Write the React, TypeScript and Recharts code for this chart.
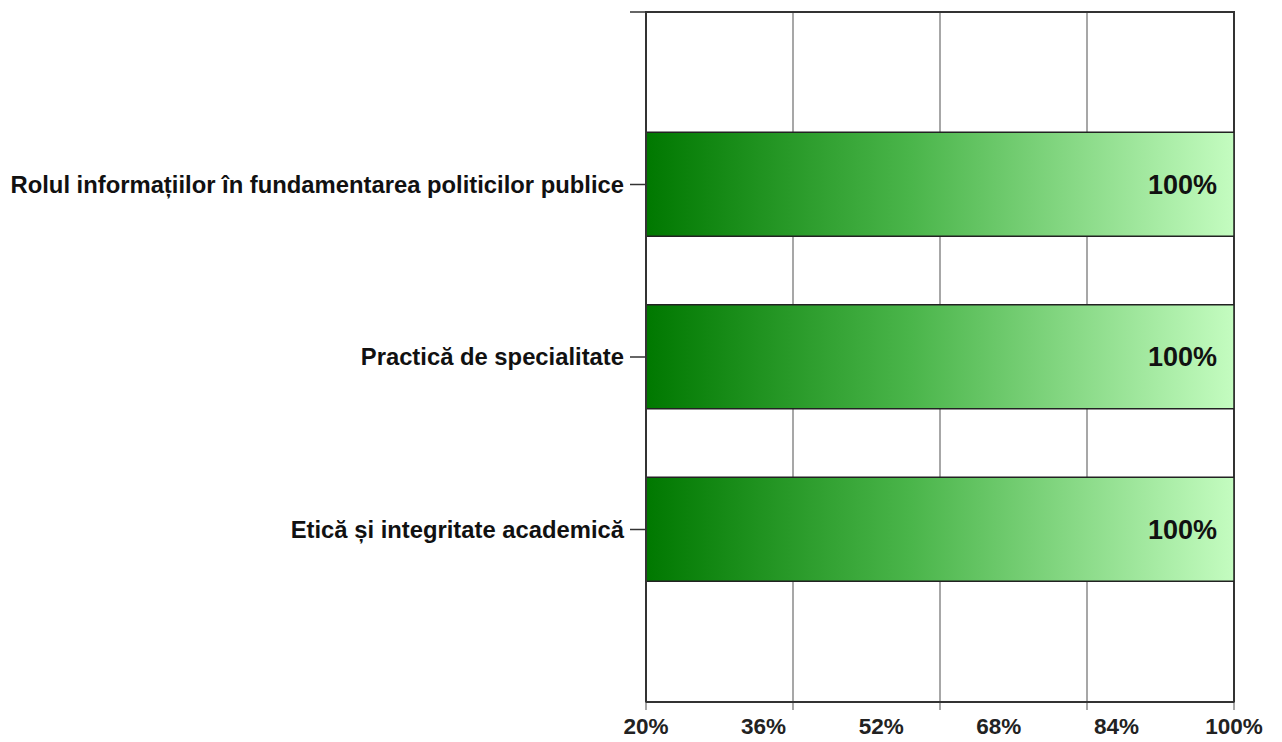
import {
    BarChart,
    Bar,
    XAxis,
    YAxis,
    CartesianGrid,
    LabelList,
    ReferenceArea,
    ReferenceLine,
} from 'recharts';

// categories, top to bottom
const categories = [
    'Rolul informațiilor în fundamentarea politicilor publice',
    'Practică de specialitate',
    'Etică și integritate academică',
];
const values = [100, 100, 100];
const gridValues = [40, 60, 80];
const labelTicks = [20, 36, 52, 68, 84, 100];

const data = categories.map((name, i) => ({ name, pos: i + 1, value: values[i] }));

const FONT = 'Arial, "Liberation Sans", sans-serif';

function formatCategory(v: number): string {
    return v >= 1 && v <= categories.length ? categories[v - 1] : '';
}

export default function App() {
    return (
        <div style={{ position: 'absolute', left: 0, top: 0, background: '#fff' }}>
            <BarChart
                width={1282}
                height={742}
                data={data}
                layout="vertical"
                margin={{ top: 12, right: 48, bottom: 0, left: 0 }}
            >
                <defs>
                    <linearGradient id="barFill" x1="0" y1="0" x2="1" y2="0">
                        <stop offset="0%" stopColor="#007800" />
                        <stop offset="45%" stopColor="#4ab54a" />
                        <stop offset="100%" stopColor="#c4fcc0" />
                    </linearGradient>
                </defs>
                <CartesianGrid
                    horizontal={false}
                    verticalValues={gridValues}
                    stroke="#8a8a8a"
                    strokeWidth={1.5}
                />
                <XAxis
                    type="number"
                    domain={[20, 100]}
                    ticks={labelTicks}
                    height={40}
                    axisLine={{ stroke: '#333', strokeWidth: 2 }}
                    tickLine={false}
                    tickFormatter={(v) => `${v}%`}
                    tick={{ fill: '#222', fontFamily: FONT, fontWeight: 700, fontSize: 22.5 }}
                    tickMargin={10}
                    interval={0}
                    allowDataOverflow
                />
                <YAxis
                    dataKey="pos"
                    type="number"
                    domain={[0, 4]}
                    ticks={[0, 1, 2, 3]}
                    width={646}
                    axisLine={{ stroke: '#333', strokeWidth: 2 }}
                    tickLine={{ stroke: '#333', strokeWidth: 1.5 }}
                    tickSize={16}
                    tickMargin={6}
                    tickFormatter={formatCategory}
                    tick={{ fill: '#111', fontFamily: FONT, fontWeight: 700, fontSize: 23.8 }}
                    interval={0}
                />
                <ReferenceArea
                    x1={20}
                    x2={100}
                    y1={0}
                    y2={4}
                    fill="none"
                    stroke="#333"
                    strokeWidth={2}
                    ifOverflow="visible"
                />
                {[20, ...gridValues, 100].map((v) => (
                    <ReferenceLine
                        key={v}
                        segment={[
                            { x: v, y: 4 },
                            { x: v, y: 4.046 },
                        ]}
                        stroke="#8a8a8a"
                        strokeWidth={1.5}
                        ifOverflow="visible"
                    />
                ))}
                <Bar
                    dataKey="value"
                    barSize={104}
                    fill="url(#barFill)"
                    stroke="#222"
                    strokeWidth={1.5}
                    isAnimationActive={false}
                >
                    <LabelList
                        dataKey="value"
                        position="insideRight"
                        offset={17}
                        formatter={(v: number) => `${v}%`}
                        style={{ fill: '#111', fontFamily: FONT, fontWeight: 700, fontSize: 27 }}
                    />
                </Bar>
            </BarChart>
        </div>
    );
}
